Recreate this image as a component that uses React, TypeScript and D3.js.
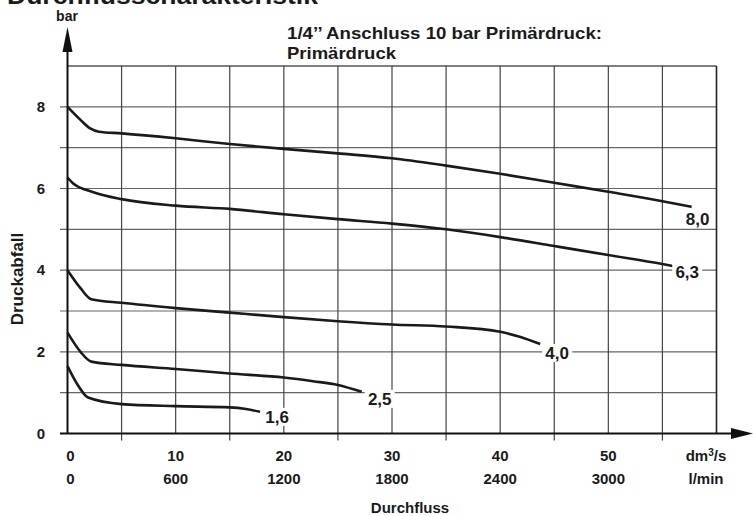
import React, { useEffect, useRef } from "react";
import * as d3 from "d3";

// Durchflusscharakteristik, 1/4" Anschluss, 10 bar Primärdruck
const flowTicks = [0, 10, 20, 30, 40, 50];
const lminTicks = ["0", "600", "1200", "1800", "2400", "3000"];
const pressureTicks = [0, 2, 4, 6, 8];

const curveNames = ["8,0", "6,3", "4,0", "2,5", "1,6"];

const flow80 = [0, 1.2, 2.1, 2.9, 5, 10, 15, 20, 25, 30, 35, 40, 45, 50, 55, 57.7];
const drop80 = [8.0, 7.68, 7.47, 7.39, 7.35, 7.23, 7.09, 6.97, 6.86, 6.74, 6.56, 6.36, 6.14, 5.92, 5.69, 5.55];

const flow63 = [0, 0.5, 2.4, 5, 10, 15, 20, 25, 30, 35, 40, 45, 50, 55, 56];
const drop63 = [6.27, 6.13, 5.91, 5.74, 5.58, 5.5, 5.37, 5.25, 5.14, 5.0, 4.81, 4.59, 4.37, 4.15, 4.1];

const flow40 = [0, 1.2, 2.2, 5, 10, 15, 20, 25, 30, 35, 40, 41.8, 43.7];
const drop40 = [4.0, 3.56, 3.29, 3.2, 3.07, 2.96, 2.85, 2.75, 2.67, 2.62, 2.49, 2.37, 2.19];

const flow25 = [0, 1.2, 2.2, 5, 10, 15, 20, 22.7, 25, 27.2];
const drop25 = [2.47, 2.0, 1.76, 1.68, 1.58, 1.47, 1.37, 1.28, 1.19, 1.02];

const flow16 = [0, 0.85, 1.9, 5, 10, 15, 16.5, 17.8];
const drop16 = [1.65, 1.23, 0.88, 0.72, 0.67, 0.64, 0.6, 0.53];

const seriesFlow = [flow80, flow63, flow40, flow25, flow16];
const seriesDrop = [drop80, drop63, drop40, drop25, drop16];

export default function App() {
  const ref = useRef<SVGSVGElement>(null);

  useEffect(() => {
    document.body.style.margin = "0";
    const svg = d3.select(ref.current);
    svg.selectAll("*").remove();

    const font = "'Liberation Sans', Arial, sans-serif";
    const x = d3.scaleLinear().domain([0, 60]).range([67.5, 716.5]);
    const y = d3.scaleLinear().domain([0, 9]).range([433.5, 66]);

    svg.append("rect").attr("width", 753).attr("height", 516).style("fill", "#fff");

    // grid: horizontal every 1 bar, vertical every 5 dm3/s
    const g = svg.append("g");
    g.selectAll("line.h")
      .data(d3.range(1, 9))
      .enter()
      .append("line")
        .attr("x1", 60)
        .attr("x2", x(60))
        .attr("y1", (d) => y(d))
        .attr("y2", (d) => y(d))
        .style("stroke", "#666")
        .style("stroke-width", 1.2);
    g.append("line")
      .attr("x1", x(0)).attr("x2", x(60))
      .attr("y1", y(9)).attr("y2", y(9))
      .style("stroke", "#555").style("stroke-width", 1.4);

    g.selectAll("line.v")
      .data(d3.range(5, 60, 5))
      .enter()
      .append("line")
        .attr("x1", (d) => x(d))
        .attr("x2", (d) => x(d))
        .attr("y1", y(9))
        .attr("y2", (d) => (d % 10 === 5 ? y(0) + 7 : y(0)))
        .style("stroke", "#444")
        .style("stroke-width", 1.2);
    g.append("line")
      .attr("x1", x(60)).attr("x2", x(60))
      .attr("y1", y(9)).attr("y2", y(0))
      .style("stroke", "#222").style("stroke-width", 1.6);

    // axes with arrows
    svg.append("line")
      .attr("x1", x(0)).attr("x2", x(0))
      .attr("y1", y(0)).attr("y2", 45)
      .style("stroke", "#111").style("stroke-width", 2);
    svg.append("path")
      .attr("d", `M${x(0)},27 L${x(0) - 5},52 L${x(0) + 5},52 Z`)
      .style("fill", "#111");
    svg.append("line")
      .attr("x1", 60).attr("x2", 738)
      .attr("y1", y(0)).attr("y2", y(0))
      .style("stroke", "#111").style("stroke-width", 2);
    svg.append("path")
      .attr("d", `M753,${y(0)} L731,${y(0) - 5.5} L731,${y(0) + 5.5} Z`)
      .style("fill", "#111");

    // curves
    const line = d3.line<number>()
      .x((d) => x(d))
      .curve(d3.curveMonotoneX);
    const labelOffsets = [[6, 12], [14, 6], [17, 9], [18, 7], [17, 5]];

    seriesFlow.forEach((fl, i) => {
      const dr = seriesDrop[i];
      line.y((_, j) => y(dr[j]));
      svg.append("path")
        .attr("d", line(fl) as string)
        .style("fill", "none")
        .style("stroke", "#1a1a1a")
        .style("stroke-width", 2.6);

      const lx = x(fl[fl.length - 1]) + labelOffsets[i][0];
      const ly = y(dr[dr.length - 1]) + labelOffsets[i][1];
      svg.append("rect")
        .attr("x", lx - 15).attr("y", ly - 9)
        .attr("width", 30).attr("height", 18)
        .style("fill", "#fff");
      svg.append("text")
        .attr("x", lx).attr("y", ly + 6)
        .attr("text-anchor", "middle")
        .style("font-family", font)
        .style("font-weight", "bold")
        .style("font-size", "17px")
        .style("fill", "#1a1a1a")
        .text(curveNames[i]);
    });

    const txt = (tx: number, ty: number, s: string, size: number, anchor = "middle") =>
      svg.append("text")
        .attr("x", tx).attr("y", ty)
        .attr("text-anchor", anchor)
        .style("font-family", font)
        .style("font-weight", "bold")
        .style("font-size", size + "px")
        .style("fill", "#1a1a1a")
        .text(s);

    pressureTicks.forEach((p) => txt(41, y(p) + 5, String(p), 15));
    flowTicks.forEach((f, i) => {
      txt(x(f) + (f === 0 ? 3 : 0), 461, String(f), 15);
      txt(x(f) + (f === 0 ? 3 : 0), 484, lminTicks[i], 15);
    });
    const dm = txt(706, 461, "dm", 15);
    dm.append("tspan").attr("dy", -5).style("font-size", "10px").text("3");
    dm.append("tspan").attr("dy", 5).text("/s");
    txt(706, 484, "l/min", 15);

    txt(410, 513, "Durchfluss", 15);
    txt(67, 21, "bar", 14);
    svg.append("text")
      .attr("transform", "translate(23,279) rotate(-90)")
      .attr("text-anchor", "middle")
      .style("font-family", font)
      .style("font-weight", "bold")
      .style("font-size", "17px")
      .style("fill", "#1a1a1a")
      .text("Druckabfall");

    txt(287, 38.5, "1/4’’ Anschluss 10 bar Primärdruck:", 17, "start")
      .attr("textLength", 315).attr("lengthAdjust", "spacingAndGlyphs");
    txt(287, 59, "Primärdruck", 17, "start")
      .attr("textLength", 109).attr("lengthAdjust", "spacingAndGlyphs");
    txt(7, 4, "Durchflusscharakteristik", 23, "start")
      .attr("textLength", 311).attr("lengthAdjust", "spacingAndGlyphs");
  }, []);

  return <svg ref={ref} width={753} height={516} style={{ display: "block" }}></svg>;
}
